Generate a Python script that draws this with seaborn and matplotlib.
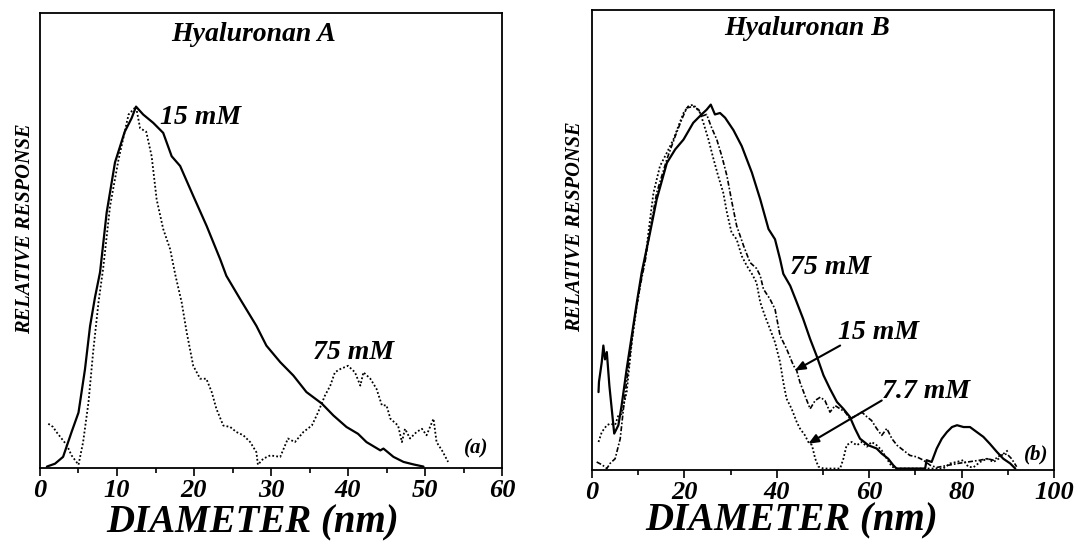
import matplotlib
matplotlib.use("Agg")
import matplotlib.pyplot as plt
import seaborn as sns
import pandas as pd
from matplotlib.ticker import MultipleLocator

# ---------------- data ----------------
# Panel (a) Hyaluronan A
a15_x = [0.9, 1.95, 3.0, 4.1, 5.0, 5.84, 6.5, 7.14, 7.8, 8.66, 9.74, 11.0, 11.9, 12.47, 13.4, 14.7,
         16.0, 17.1, 18.2, 19.9, 21.65, 23.4, 24.2, 26.0, 28.1, 29.4, 31.2, 32.9, 34.6, 36.6, 38.1,
         39.8, 41.3, 42.4, 44.2, 44.6, 45.9, 47.2, 48.5, 49.8]
a15_y = [0.0, 0.008, 0.027, 0.096, 0.15, 0.27, 0.39, 0.47, 0.54, 0.706, 0.845, 0.93, 0.968, 1.0,
         0.978, 0.955, 0.927, 0.862, 0.835, 0.752, 0.668, 0.576, 0.53, 0.465, 0.391, 0.336, 0.29,
         0.253, 0.207, 0.175, 0.142, 0.11, 0.091, 0.068, 0.045, 0.05, 0.027, 0.013, 0.006, 0.0]

a75_x = [1.08, 1.7, 2.1, 2.8, 3.5, 4.1, 5.0, 5.6, 6.3, 6.9, 7.6, 8.2, 9.1, 10.2, 11.5, 12.47, 13.0,
         13.8, 14.5, 15.15, 16.0, 16.9, 17.6, 18.4, 19.05, 19.9, 20.8, 21.6, 22.3, 22.9, 23.8, 24.7,
         25.5, 26.4, 27.3, 28.1, 28.3, 29.0, 29.9, 31.2, 32.2, 33.1, 34.2, 35.3, 36.1, 37.0, 37.7,
         38.3, 39.0, 40.0, 40.9, 41.6, 42.0, 42.9, 43.7, 44.4, 45.0, 45.5, 46.5, 47.0, 47.4, 48.05,
         48.9, 49.6, 50.2, 51.1, 51.5, 52.2, 53.0]
a75_y = [0.119, 0.11, 0.097, 0.078, 0.059, 0.031, 0.005, 0.068, 0.179, 0.318, 0.457, 0.55, 0.724,
         0.853, 0.978, 1.0, 0.94, 0.93, 0.862, 0.742, 0.66, 0.604, 0.53, 0.456, 0.373, 0.28, 0.244,
         0.244, 0.207, 0.161, 0.114, 0.11, 0.096, 0.087, 0.068, 0.04, 0.005, 0.022, 0.031, 0.027,
         0.078, 0.068, 0.096, 0.114, 0.15, 0.197, 0.225, 0.262, 0.271, 0.28, 0.262, 0.225, 0.262,
         0.244, 0.216, 0.17, 0.17, 0.133, 0.114, 0.068, 0.105, 0.078, 0.096, 0.105, 0.087, 0.133,
         0.068, 0.045, 0.013]

# Panel (b) Hyaluronan B
b75_x = [1.4, 1.5, 2.1, 2.45, 2.8, 3.2, 3.75, 4.26, 4.8, 5.7, 6.4, 7.5, 8.6, 9.7, 10.75, 12.55, 14.0,
         16.2, 18.0, 19.8, 21.9, 23.7, 24.8, 25.7, 26.6, 27.7, 28.8, 30.6, 32.4, 34.6, 36.4, 38.2,
         39.6, 40.7, 41.4, 42.9, 44.3, 45.7, 47.2, 48.6, 50.1, 51.5, 53.0, 54.4, 55.8, 56.9, 58.0,
         59.8, 61.6, 62.7, 64.1, 65.2, 65.9, 72.1, 72.4, 73.5, 74.6, 75.7, 76.8, 77.9, 79.0, 80.4,
         81.8, 83.3, 84.7, 86.1, 87.6, 89.0, 90.5, 91.6]
b75_y = [0.21, 0.238, 0.292, 0.338, 0.3, 0.32, 0.228, 0.164, 0.096, 0.119, 0.173, 0.274, 0.365,
         0.457, 0.539, 0.648, 0.74, 0.84, 0.877, 0.904, 0.95, 0.973, 0.986, 1.0, 0.973, 0.977, 0.964,
         0.93, 0.886, 0.813, 0.74, 0.658, 0.63, 0.575, 0.535, 0.502, 0.457, 0.411, 0.356, 0.31,
         0.256, 0.219, 0.183, 0.164, 0.142, 0.11, 0.082, 0.064, 0.055, 0.041, 0.027, 0.009, 0.0,
         0.0, 0.023, 0.018, 0.055, 0.082, 0.1, 0.114, 0.119, 0.114, 0.114, 0.1, 0.087, 0.068, 0.046,
         0.027, 0.014, 0.0]

b15_x = [1.0, 2.2, 3.2, 3.9, 5.0, 6.1, 7.1, 8.2, 9.3, 10.4, 11.5, 12.6, 14.0, 16.2, 18.0, 19.4, 20.5,
         21.9, 23.1, 23.7, 24.8, 25.9, 27.0, 28.1, 29.2, 30.3, 31.3, 32.8, 34.2, 35.6, 36.4, 37.1,
         38.5, 39.6, 40.7, 42.1, 43.6, 44.3, 45.0, 46.1, 47.2, 48.3, 49.4, 50.4, 51.5, 52.6, 53.7,
         54.8, 55.8, 57.3, 58.4, 59.5, 60.5, 61.6, 62.7, 63.8, 64.9, 66.0, 67.4, 68.8, 70.3, 71.7,
         73.2, 74.6, 79.2, 84.0, 85.5, 86.9, 88.3, 89.8, 90.8, 91.9]
b15_y = [0.018, 0.01, 0.0, 0.014, 0.027, 0.082, 0.2, 0.31, 0.42, 0.5, 0.57, 0.658, 0.758, 0.85,
         0.913, 0.959, 0.991, 0.995, 0.986, 0.968, 0.973, 0.936, 0.904, 0.858, 0.804, 0.73, 0.667,
         0.612, 0.566, 0.55, 0.53, 0.493, 0.466, 0.438, 0.365, 0.329, 0.283, 0.269, 0.237, 0.2,
         0.164, 0.187, 0.196, 0.187, 0.155, 0.173, 0.164, 0.155, 0.137, 0.146, 0.155, 0.142, 0.132,
         0.11, 0.091, 0.11, 0.082, 0.064, 0.05, 0.036, 0.032, 0.023, 0.009, 0.003, 0.014, 0.023,
         0.027, 0.023, 0.036, 0.04, 0.027, 0.005]

b77_x = [1.4, 2.1, 3.2, 3.9, 5.0, 5.7, 6.4, 7.5, 8.6, 9.7, 10.75, 11.5, 12.2, 13.3, 14.7, 16.2, 17.6,
         18.7, 19.8, 20.8, 21.9, 22.6, 23.4, 24.1, 25.2, 26.3, 27.3, 28.4, 29.2, 30.2, 31.3, 32.4,
         33.5, 34.6, 35.6, 36.4, 37.4, 38.5, 39.6, 40.7, 41.4, 42.1, 43.2, 44.3, 45.0, 46.1, 46.8,
         47.6, 48.3, 49.0, 50.1, 53.7, 54.4, 55.1, 56.2, 57.3, 58.4, 59.5, 60.5, 61.6, 62.7, 63.8,
         64.9, 66.0, 76.0, 77.5, 78.9, 80.4, 81.4, 82.5, 84.0, 85.5, 86.9, 88.0, 89.0, 90.0]
b77_y = [0.073, 0.1, 0.119, 0.123, 0.12, 0.146, 0.15, 0.21, 0.347, 0.447, 0.53, 0.575, 0.648, 0.758,
         0.831, 0.868, 0.904, 0.941, 0.977, 0.995, 1.0, 0.99, 0.977, 0.95, 0.904, 0.85, 0.804, 0.758,
         0.703, 0.648, 0.63, 0.584, 0.557, 0.535, 0.511, 0.457, 0.42, 0.384, 0.347, 0.292, 0.237,
         0.192, 0.164, 0.128, 0.11, 0.091, 0.073, 0.064, 0.027, 0.005, 0.0, 0.0, 0.027, 0.064, 0.073,
         0.064, 0.073, 0.06, 0.073, 0.064, 0.05, 0.027, 0.005, 0.0, 0.0, 0.014, 0.018, 0.023, 0.005,
         0.003, 0.018, 0.027, 0.018, 0.027, 0.04, 0.05]

xticks_a = [0, 10, 20, 30, 40, 50, 60]
xticks_b = [0, 20, 40, 60, 80, 100]

# ---------------- style ----------------
sns.set_style("white")
plt.rcParams["font.family"] = ["Liberation Serif", "DejaVu Serif"]
plt.rcParams["font.weight"] = "bold"
plt.rcParams["font.style"] = "italic"
plt.rcParams["text.color"] = "black"
plt.rcParams["axes.labelcolor"] = "black"
plt.rcParams["xtick.color"] = "black"
plt.rcParams["xtick.labelcolor"] = "black"

FONT = dict(family=["Liberation Serif", "DejaVu Serif"], weight="bold", style="italic",
            color="black")

fig = plt.figure(figsize=(10.78, 5.47), dpi=100)
ax1 = fig.add_axes([0.0371, 0.1444, 0.4286, 0.8318])
ax2 = fig.add_axes([0.5492, 0.1408, 0.4286, 0.8409])

solid = dict(color="black", linewidth=1.6)
dotted = dict(color="black", linewidth=1.3, linestyle=(0, (1, 1.2)))
dashdot = dict(color="black", linewidth=1.2, linestyle=(0, (3, 1.2, 1, 1.2)))


def draw(ax, x, y, style):
    df = pd.DataFrame({"x": x, "y": y})
    sns.lineplot(data=df, x="x", y="y", ax=ax, sort=False, estimator=None, **style)


draw(ax1, a15_x, a15_y, solid)
draw(ax1, a75_x, a75_y, dotted)
draw(ax2, b75_x, b75_y, solid)
draw(ax2, b15_x, b15_y, dashdot)
draw(ax2, b77_x, b77_y, dotted)

for ax, ticks, xmax in ((ax1, xticks_a, 60), (ax2, xticks_b, 100)):
    ax.set_xlim(0, xmax)
    ax.set_ylim(-0.004, 1.26)
    ax.set_xticks(ticks)
    ax.set_xticklabels([str(t) for t in ticks], fontsize=19, **FONT)
    ax.xaxis.set_minor_locator(MultipleLocator(ticks[1] / 2))
    ax.set_yticks([])
    ax.tick_params(axis="x", which="major", direction="out", length=6, width=1.2,
                   pad=2, bottom=True, color="black")
    ax.tick_params(axis="x", which="minor", direction="out", length=3.5, width=1.2,
                   bottom=True, color="black")
    for s in ax.spines.values():
        s.set_visible(True)
        s.set_color("black")
        s.set_linewidth(1.3)
    ax.set_xlabel("DIAMETER (nm)", fontsize=28, va="center", **FONT)
    ax.set_ylabel("RELATIVE RESPONSE", fontsize=14.7, va="center", **FONT)

ax1.xaxis.set_label_coords(0.461, -0.12)
ax2.xaxis.set_label_coords(0.432, -0.11)
ax1.yaxis.set_label_coords(-0.032, 0.525)
ax2.yaxis.set_label_coords(-0.037, 0.53)

ax1.text(0.462, 0.952, "Hyaluronan A", transform=ax1.transAxes, ha="center", va="center",
         fontsize=20, **FONT)
ax2.text(0.466, 0.959, "Hyaluronan B", transform=ax2.transAxes, ha="center", va="center",
         fontsize=20, **FONT)

ax1.text(15.6, 0.97, "15 mM", ha="left", va="center", fontsize=20, **FONT)
ax1.text(35.5, 0.317, "75 mM", ha="left", va="center", fontsize=20, **FONT)
ax1.text(58.2, 0.05, "(a)", ha="right", va="center", fontsize=15, **FONT)

ax2.text(42.9, 0.553, "75 mM", ha="left", va="center", fontsize=20, **FONT)
ax2.text(53.2, 0.375, "15 mM", ha="left", va="center", fontsize=20, **FONT)
ax2.text(62.8, 0.212, "7.7 mM", ha="left", va="center", fontsize=20, **FONT)
ax2.text(98.8, 0.038, "(b)", ha="right", va="center", fontsize=15, **FONT)

arrow = dict(arrowstyle="-|>,head_length=0.6,head_width=0.25", color="black", lw=1.5,
             shrinkA=0, shrinkB=0)
ax2.annotate("", xy=(43.9, 0.269), xytext=(53.7, 0.338), arrowprops=arrow)
ax2.annotate("", xy=(46.8, 0.068), xytext=(62.7, 0.187), arrowprops=arrow)

fig.savefig("out.png", dpi=100)
